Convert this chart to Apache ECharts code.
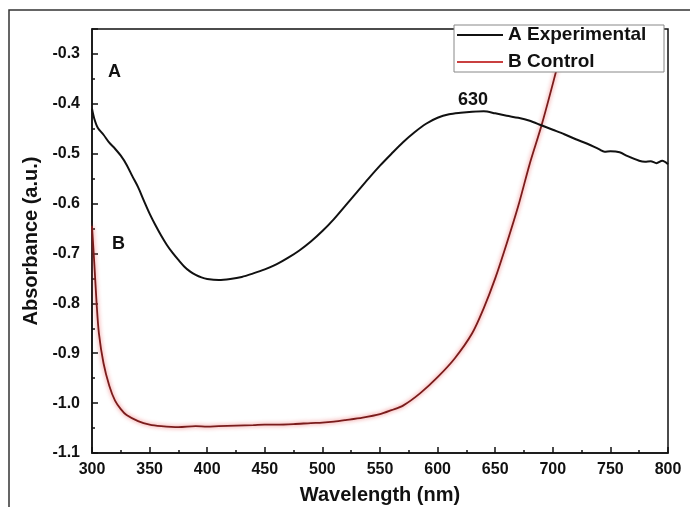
<!DOCTYPE html>
<html lang="en">
<head>
	<meta charset="UTF-8">
	<title>Absorbance</title>
	<style>
		html,body{margin:0;padding:0;background:#fff;}
	</style>
</head>
<body>
	<div id="chart" style="width:690px;height:507px;"></div>
	<script src="https://cdn.jsdelivr.net/npm/echarts@6/dist/echarts.min.js"></script>
	<script>
		// wavelength (nm) and absorbance
		var expWave = [300,302,305,310,315,320,325,330,335,340,345,350,355,360,365,370,375,380,385,390,395,400,410,420,430,440,450,460,470,480,490,500,510,520,530,540,550,560,570,580,590,600,610,620,630,640,650,660,670,680,690,700,710,720,730,740,745,750,758,765,775,780,785,790,795,800];
		var expAbs = [-0.41,-0.43,-0.448,-0.462,-0.478,-0.49,-0.504,-0.522,-0.545,-0.567,-0.594,-0.62,-0.643,-0.664,-0.683,-0.699,-0.713,-0.726,-0.736,-0.743,-0.748,-0.751,-0.753,-0.751,-0.747,-0.74,-0.732,-0.722,-0.709,-0.694,-0.676,-0.655,-0.631,-0.604,-0.577,-0.55,-0.524,-0.5,-0.477,-0.457,-0.44,-0.428,-0.421,-0.418,-0.416,-0.415,-0.419,-0.424,-0.428,-0.434,-0.443,-0.452,-0.461,-0.471,-0.48,-0.491,-0.496,-0.495,-0.497,-0.505,-0.514,-0.516,-0.515,-0.519,-0.514,-0.521];

		var ctrlWave = [300,302,304,306,310,315,320,325,330,340,350,360,375,390,400,410,425,440,450,460,475,490,500,510,520,535,550,560,570,585,600,615,630,640,650,660,670,680,690,700,710,715];
		var ctrlAbs = [-0.645,-0.72,-0.8,-0.86,-0.92,-0.965,-0.995,-1.012,-1.024,-1.036,-1.043,-1.046,-1.048,-1.046,-1.047,-1.046,-1.045,-1.044,-1.043,-1.043,-1.042,-1.040,-1.039,-1.037,-1.034,-1.029,-1.022,-1.014,-1.005,-0.98,-0.948,-0.91,-0.86,-0.81,-0.75,-0.68,-0.605,-0.52,-0.445,-0.36,-0.27,-0.22];

		var seriesNames = ['A Experimental', 'B Control'];
		var xTicks = {min: 300, max: 800, step: 50};
		var yTicks = {min: -1.1, max: -0.25, step: 0.1};

		// text marks: [label, wavelength, absorbance]
		var notes = [['A', 319.5, -0.337], ['B', 323, -0.682], ['630', 630.7, -0.393]];

		function pairs(xs, ys){
			var out = [];
			for (var i = 0; i < xs.length; i++) out.push([xs[i], ys[i]]);
			return out;
		}

		var font = 'Liberation Sans, Arial, sans-serif';
		var chart = echarts.init(document.getElementById('chart'));

		var option = {
			backgroundColor: '#fff',
			animation: false,
			grid: {
				left: 92, right: 22, top: 29, bottom: 54,
				outerBoundsMode: 'none',
				show: true, borderColor: '#111', borderWidth: 1.5
			},
			legend: {
				orient: 'vertical',
				left: 454, top: 25,
				padding: [0, 3, 0, 3],
				itemWidth: 46, itemHeight: 2, itemGap: 7,
				icon: 'rect',
				backgroundColor: '#fff',
				borderColor: '#888', borderWidth: 1,
				textStyle: {fontFamily: font, fontWeight: 'bold', fontSize: 19, color: '#111', lineHeight: 20, width: 153},
				data: [
					{name: seriesNames[0], itemStyle: {color: '#111'}},
					{name: seriesNames[1], itemStyle: {color: '#c94040'}}
				]
			},
			xAxis: {
				type: 'value',
				min: xTicks.min, max: xTicks.max, interval: xTicks.step,
				name: 'Wavelength (nm)',
				nameLocation: 'middle', nameGap: 32,
				nameTextStyle: {fontFamily: font, fontWeight: 'bold', fontSize: 20, color: '#111'},
				axisLine: {lineStyle: {color: '#111', width: 1.5}},
				axisTick: {inside: true, length: 6, lineStyle: {color: '#111', width: 1.5}},
				minorTick: {show: true, splitNumber: 2, length: 3, lineStyle: {color: '#111', width: 1.5}},
				axisLabel: {fontFamily: font, fontWeight: 'bold', fontSize: 16, color: '#111', margin: 9},
				splitLine: {show: false}
			},
			yAxis: {
				type: 'value',
				min: yTicks.min, max: yTicks.max, interval: yTicks.step,
				name: 'Absorbance (a.u.)',
				nameLocation: 'middle', nameGap: 50,
				nameTextStyle: {fontFamily: font, fontWeight: 'bold', fontSize: 20, color: '#111'},
				axisLine: {show: true, lineStyle: {color: '#111', width: 1.5}},
				axisTick: {show: true, inside: true, length: 6, lineStyle: {color: '#111', width: 1.5}},
				minorTick: {show: true, splitNumber: 2, length: 3, lineStyle: {color: '#111', width: 1.5}},
				axisLabel: {
					fontFamily: font, fontWeight: 'bold', fontSize: 16, color: '#111', margin: 12,
					showMaxLabel: false,
					formatter: function(v){ return v.toFixed(1); }
				},
				splitLine: {show: false}
			},
			series: [
				{
					name: seriesNames[0],
					type: 'line',
					data: pairs(expWave, expAbs),
					showSymbol: false,
					smooth: 0.3,
					color: '#111',
					lineStyle: {color: '#111', width: 2},
					z: 3,
					markPoint: {
						symbol: 'circle', symbolSize: 1,
						itemStyle: {color: 'transparent'},
						label: {
							show: true, position: 'inside', formatter: '{b}',
							fontFamily: font, fontWeight: 'bold', fontSize: 18, color: '#111'
						},
						data: notes.map(function(n){ return {name: n[0], coord: [n[1], n[2]]}; })
					}
				},
				{
					name: seriesNames[1],
					type: 'line',
					data: pairs(ctrlWave, ctrlAbs),
					showSymbol: false,
					smooth: 0.3,
					color: '#c94040',
					lineStyle: {color: '#7a1c1c', width: 1.8, shadowColor: 'rgba(235,90,90,0.9)', shadowBlur: 4},
					z: 2
				}
			],
			graphic: [
				{
					type: 'rect', z: -10, silent: true,
					shape: {x: 9, y: 10, width: 700, height: 520},
					style: {fill: 'none', stroke: '#333', lineWidth: 1.5}
				}
			]
		};
		chart.setOption(option);
	</script>
</body>
</html>
